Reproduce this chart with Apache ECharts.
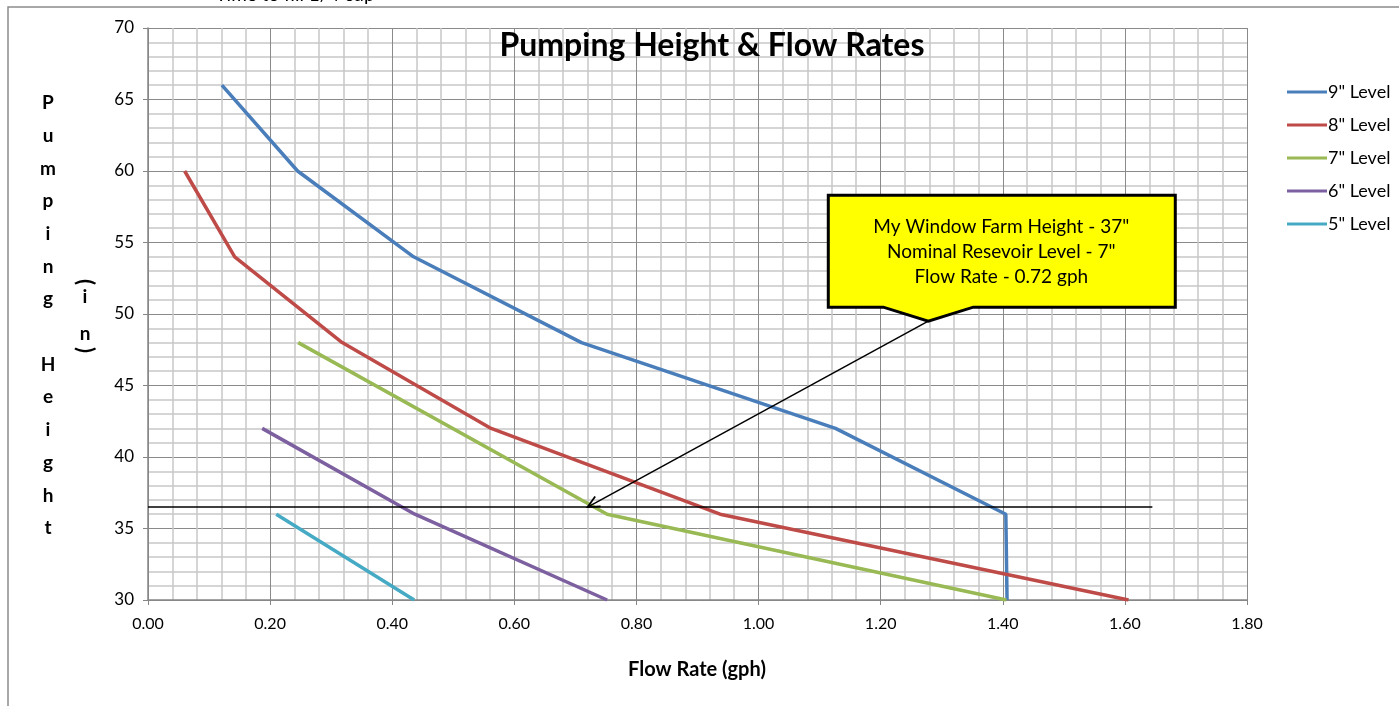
<!DOCTYPE html>
<html>
<head>
<meta charset="utf-8">
<script src="https://cdn.jsdelivr.net/npm/echarts@6/dist/echarts.min.js"></script>
<style>
html,body{margin:0;padding:0;background:#fff;}
#c{width:1399px;height:706px;}
</style>
</head>
<body>
<div id="c"></div>
<script>
// ---- data ----
const seriesNames = ['9" Level', '8" Level', '7" Level', '6" Level', '5" Level'];
const flow9 = [0.121, 0.245, 0.435, 0.71, 1.126, 1.405, 1.407];
const height9 = [66, 60, 54, 48, 42, 36, 30];
const flow8 = [0.06, 0.142, 0.318, 0.562, 0.937, 1.606];
const height8 = [60, 54, 48, 42, 36, 30];
const flow7 = [0.246, 0.752, 1.406];
const height7 = [48, 36, 30];
const flow6 = [0.187, 0.437, 0.752];
const height6 = [42, 36, 30];
const flow5 = [0.21, 0.436];
const height5 = [36, 30];
const refFlow = [0, 1.645];
const refHeight = [36.5, 36.5];
const arrowFrom = [1.278, 49.5];
const arrowTo = [0.72, 36.5];
const calloutLines = ['My Window Farm Height - 37"', 'Nominal Resevoir Level - 7"', 'Flow Rate - 0.72 gph'];
const xTicks = {min: 0, max: 1.8, interval: 0.2};
const yTicks = {min: 30, max: 70, interval: 5};
const colors = ['#4A7EBB', '#BE4B48', '#98B954', '#7D60A0', '#46AAC5'];

const FONT = 'Lato, "Liberation Sans", sans-serif';
const pairs = (xs, ys) => xs.map((x, i) => [x, ys[i]]);
const allX = [flow9, flow8, flow7, flow6, flow5];
const allY = [height9, height8, height7, height6, height5];

const chart = echarts.init(document.getElementById('c'), null, {renderer: 'canvas'});

const series = seriesNames.map((n, i) => ({
  name: n, type: 'line', data: pairs(allX[i], allY[i]),
  symbol: 'none', smooth: false,
  lineStyle: {color: colors[i], width: 3.5},
  itemStyle: {color: colors[i]}, z: 3
}));
series.push({
  name: 'ref', type: 'line', data: pairs(refFlow, refHeight),
  symbol: 'none', lineStyle: {color: '#000', width: 1.5}, z: 4, silent: true
});

const option = {
  animation: false,
  backgroundColor: '#fff',
  grid: {left: 148, right: 152, top: 28, bottom: 106},
  xAxis: {
    type: 'value', min: xTicks.min, max: xTicks.max, interval: xTicks.interval,
    axisLine: {show: true, lineStyle: {color: '#868686', width: 1.5}},
    axisTick: {show: true, length: 5, lineStyle: {color: '#868686'}},
    axisLabel: {formatter: v => v.toFixed(2), fontFamily: FONT, fontSize: 16, color: '#000', margin: 16, showMinLabel: true, showMaxLabel: true},
    splitLine: {show: true, lineStyle: {color: '#8a8a8a', width: 1}},
    minorTick: {show: false, splitNumber: 5},
    minorSplitLine: {show: true, lineStyle: {color: '#c8c8c8', width: 1.5}}
  },
  yAxis: {
    type: 'value', min: yTicks.min, max: yTicks.max, interval: yTicks.interval,
    axisLine: {show: true, lineStyle: {color: '#868686', width: 1.5}},
    axisTick: {show: true, length: 5, lineStyle: {color: '#868686'}},
    axisLabel: {fontFamily: FONT, fontSize: 17, color: '#000', margin: 14},
    splitLine: {show: true, lineStyle: {color: '#8a8a8a', width: 1}},
    minorTick: {show: false, splitNumber: 5},
    minorSplitLine: {show: true, lineStyle: {color: '#c8c8c8', width: 1.5}}
  },
  legend: {
    data: seriesNames, orient: 'vertical', left: 1282, top: 78,
    itemWidth: 40, itemHeight: 18, itemGap: 15, icon: 'path://M0,7.5 L40,7.5 L40,10.5 L0,10.5 Z',
    textStyle: {fontFamily: FONT, fontSize: 18, color: '#000', padding: [0, 0, 0, -4]},
    selectedMode: false
  },
  series: series
};
chart.setOption(option);

// annotations
const g = [];
const A = chart.convertToPixel({gridIndex: 0}, arrowFrom);
const B = chart.convertToPixel({gridIndex: 0}, arrowTo);
g.push({type: 'rect', shape: {x: 8, y: 7, width: 1500, height: 800}, style: {fill: 'none', stroke: '#8c8c8c', lineWidth: 1.5}, z: 0, silent: true});
g.push({type: 'text', x: 295, y: 4, style: {text: 'Time to fill 1/4 cup', fontFamily: FONT, fontSize: 19, fill: '#000', textAlign: 'center', textVerticalAlign: 'bottom'}, z: 10});
g.push({type: 'text', x: 712, y: 46, style: {text: 'Pumping Height & Flow Rates', fontFamily: FONT, fontSize: 32, fontWeight: 'bold', fill: '#000', textAlign: 'center', textVerticalAlign: 'middle'}, z: 10});
g.push({type: 'text', x: 697, y: 670, style: {text: 'Flow Rate (gph)', fontFamily: FONT, fontSize: 20, fontWeight: 'bold', fill: '#000', textAlign: 'center', textVerticalAlign: 'middle'}, z: 10});
const yLabel = 'Pumping Height';
for (let i = 0; i < yLabel.length; i++) {
  if (yLabel[i] === ' ') continue;
  g.push({type: 'text', x: 48, y: 103 + i * 32.7, style: {text: yLabel[i], fontFamily: FONT, fontSize: 19, fontWeight: 'bold', fill: '#000', textAlign: 'center', textVerticalAlign: 'middle'}, z: 10});
}
const paren = (ch, y) => ({
  type: 'group', x: 85, y: y, rotation: -Math.PI / 2, z: 10,
  children: [{type: 'text', x: 0, y: 0, style: {text: ch, fontFamily: FONT, fontSize: 22, fontWeight: 'bold', fill: '#000', textAlign: 'center', textVerticalAlign: 'middle'}}]
});
g.push(paren('(', 282));
g.push({type: 'text', x: 85, y: 297, style: {text: 'i', fontFamily: FONT, fontSize: 19, fontWeight: 'bold', fill: '#000', textAlign: 'center', textVerticalAlign: 'middle'}, z: 10});
g.push({type: 'text', x: 85, y: 334, style: {text: 'n', fontFamily: FONT, fontSize: 19, fontWeight: 'bold', fill: '#000', textAlign: 'center', textVerticalAlign: 'middle'}, z: 10});
g.push(paren(')', 350));

// arrow from callout tip to the operating point
g.push({type: 'line', shape: {x1: A[0], y1: A[1], x2: B[0], y2: B[1]}, style: {stroke: '#000', lineWidth: 1.5}, z: 15});
const ang = Math.atan2(A[1] - B[1], A[0] - B[0]);
const hl = 13, ha = 0.45;
g.push({type: 'polyline', shape: {points: [
  [B[0] + hl * Math.cos(ang + ha), B[1] + hl * Math.sin(ang + ha)],
  [B[0], B[1]],
  [B[0] + hl * Math.cos(ang - ha), B[1] + hl * Math.sin(ang - ha)]
]}, style: {stroke: '#000', lineWidth: 1.8, fill: 'none'}, z: 15});

const tx = A[0], ty = A[1];
g.push({type: 'polygon', shape: {points: [
  [tx - 100, ty - 126], [tx + 247, ty - 126], [tx + 247, ty - 14], [tx + 45, ty - 14], [tx, ty], [tx - 45, ty - 14], [tx - 100, ty - 14]
]}, style: {fill: '#FFFF00', stroke: '#000', lineWidth: 3}, z: 20});
calloutLines.forEach((t, i) => {
  g.push({type: 'text', x: tx + 73, y: ty - 94 + i * 25, style: {text: t, fontFamily: FONT, fontSize: 19, fill: '#000', textAlign: 'center', textVerticalAlign: 'middle'}, z: 21});
});
chart.setOption({graphic: g});
</script>
</body>
</html>
